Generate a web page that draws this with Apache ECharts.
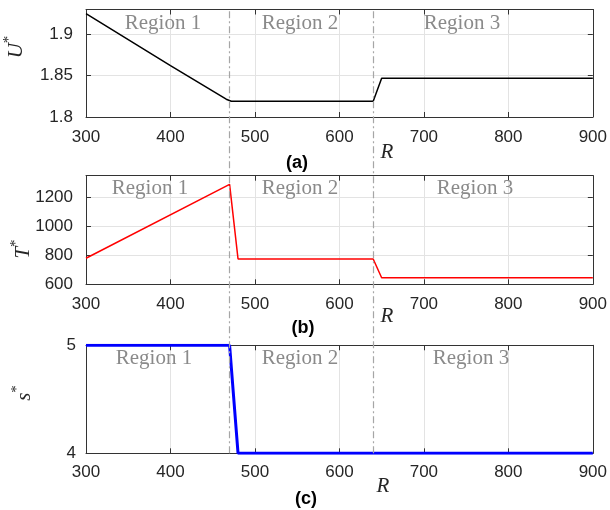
<!DOCTYPE html>
<html>
<head>
<meta charset="utf-8">
<script src="https://cdn.jsdelivr.net/npm/echarts@6/dist/echarts.min.js"></script>
<style>html,body{margin:0;padding:0;background:#fff}#c{width:610px;height:510px}</style>
</head>
<body>
<div id="c"></div>
<script>
// ---- data ----
const xTicks = [300, 400, 500, 600, 700, 800, 900];
const uData = [[300, 1.925], [400, 1.862], [466, 1.8215], [472, 1.819], [640, 1.819], [650, 1.847], [900, 1.847]];
const tData = [[300, 780], [470, 1290], [480, 775], [640, 775], [650, 645], [900, 645]];
const sData = [[300, 5], [470, 5], [480, 4], [900, 4]];
const regionBounds = [469, 639];
const regionNames = ['Region 1', 'Region 2', 'Region 3'];
const panelLabels = ['(a)', '(b)', '(c)'];
const uTicks = [1.8, 1.85, 1.9];
const tTicks = [600, 800, 1000, 1200];
const sTicks = [4, 5];

const chart = echarts.init(document.getElementById('c'));
const boxColor = '#333333';
const gridColor = '#e3e3e3';
const textColor = '#262626';
const sans = 'Liberation Sans, Arial, sans-serif';
const serif = 'Liberation Serif, Times New Roman, serif';

const grids = [
  {left: 86, right: 15, top: 9.5, height: 107.5},
  {left: 86, right: 15, top: 175.7, height: 108.6},
  {left: 86, right: 15, top: 345.3, height: 108},
  {left: 86, right: 15, top: 9.5, height: 443.8}
];

function fmt(ticks) {
  return function (v) {
    for (const t of ticks) if (Math.abs(v - t) < 1e-6) return String(t);
    return '';
  };
}

function bottomX(gi, margin) {
  return {
    type: 'value', gridIndex: gi, min: 300, max: 900, interval: 100, position: 'bottom',
    axisLine: {show: true, lineStyle: {color: boxColor, width: 1}},
    axisTick: {show: true, inside: true, length: 5, lineStyle: {color: boxColor}},
    axisLabel: {color: textColor, fontSize: 17, fontFamily: sans, margin: margin, formatter: fmt(xTicks)},
    splitLine: {show: true, lineStyle: {color: gridColor, width: 1}}
  };
}
function topX(gi) {
  return {
    type: 'value', gridIndex: gi, min: 300, max: 900, interval: 100, position: 'top',
    axisLine: {show: true, lineStyle: {color: boxColor, width: 1}},
    axisTick: {show: true, inside: true, length: 5, lineStyle: {color: boxColor}},
    axisLabel: {show: false}, splitLine: {show: false}
  };
}
function leftY(gi, min, max, interval, ticks, margin, split) {
  return {
    type: 'value', gridIndex: gi, min: min, max: max, interval: interval, position: 'left',
    axisLine: {show: true, lineStyle: {color: boxColor, width: 1}},
    axisTick: {show: true, inside: true, length: 5, lineStyle: {color: boxColor}},
    axisLabel: {color: textColor, fontSize: 17, fontFamily: sans, margin: margin, formatter: fmt(ticks), showMaxLabel: true, showMinLabel: true},
    splitLine: {show: split, lineStyle: {color: gridColor, width: 1}}
  };
}
function rightY(gi, min, max, interval) {
  return {
    type: 'value', gridIndex: gi, min: min, max: max, interval: interval, position: 'right',
    axisLine: {show: true, lineStyle: {color: boxColor, width: 1}},
    axisTick: {show: true, inside: true, length: 5, lineStyle: {color: boxColor}},
    axisLabel: {show: false}, splitLine: {show: false}
  };
}

const xAxis = [
  bottomX(0, 12), topX(0),
  bottomX(1, 12), topX(1),
  bottomX(2, 11), topX(2),
  {type: 'value', gridIndex: 3, min: 300, max: 900, show: false}
];
const yAxis = [
  leftY(0, 1.8, 1.93, 0.05, uTicks, 13, true), rightY(0, 1.8, 1.93, 0.05),
  leftY(1, 600, 1350, 200, tTicks, 13, true), rightY(1, 600, 1350, 200),
  leftY(2, 4, 5, 1, sTicks, 10, false), rightY(2, 4, 5, 1),
  {type: 'value', gridIndex: 3, min: 0, max: 1, show: false}
];

const series = [
  {type: 'line', xAxisIndex: 6, yAxisIndex: 6, data: [], silent: true, z: 1,
   markLine: {silent: true, symbol: 'none', label: {show: false},
     lineStyle: {color: '#a6a6a6', width: 1.2, type: [7, 3, 2, 3]},
     data: regionBounds.map(v => ({xAxis: v}))}},
  {type: 'line', xAxisIndex: 0, yAxisIndex: 0, data: uData, symbol: 'none',
   lineStyle: {color: '#000000', width: 1.5}, z: 3},
  {type: 'line', xAxisIndex: 2, yAxisIndex: 2, data: tData, symbol: 'none',
   lineStyle: {color: '#ff0000', width: 1.5}, z: 3},
  {type: 'line', xAxisIndex: 4, yAxisIndex: 4, data: sData, symbol: 'none',
   lineStyle: {color: '#0000ff', width: 3}, z: 3}
];

// region label pixel centres per panel
const regionPos = [
  [[163, 23], [300, 23], [462, 23]],
  [[150, 188], [300, 188], [475, 188]],
  [[154, 358], [300, 358], [471, 358]]
];
const graphic = [];
regionPos.forEach(panel => panel.forEach((p, i) => {
  graphic.push({type: 'text', x: p[0], y: p[1], z: 10, silent: true,
    style: {text: regionNames[i], font: '21px ' + serif, fill: '#8a8a8a', align: 'center', verticalAlign: 'middle'}});
}));
const panelPos = [[297, 163], [303, 328], [306, 499]];
panelPos.forEach((p, i) => graphic.push({type: 'text', x: p[0], y: p[1], silent: true,
  style: {text: panelLabels[i], font: 'bold 18px ' + sans, fill: '#000', align: 'center', verticalAlign: 'middle'}}));
const rPos = [[387, 152], [387, 316], [383, 486]];
rPos.forEach(p => graphic.push({type: 'text', x: p[0], y: p[1], silent: true,
  style: {text: 'R', font: 'italic 21px ' + serif, fill: '#262626', align: 'center', verticalAlign: 'middle'}}));

const yTitles = [['U', 14, 47], ['T', 21, 249], ['s', 22, 393]];
yTitles.forEach(t => graphic.push({type: 'text', x: t[1], y: t[2], rotation: Math.PI / 2, silent: true,
  style: {text: '{b|' + t[0] + '}{s|*}', align: 'center', verticalAlign: 'middle', fill: '#262626',
    rich: {b: {font: 'italic 21px ' + serif, fill: '#262626', verticalAlign: 'bottom'},
           s: {font: '15px ' + serif, fill: '#262626', verticalAlign: 'top', padding: [0, 0, 10, 0]}}}}));

chart.setOption({
  animation: false,
  grid: grids,
  xAxis: xAxis,
  yAxis: yAxis,
  series: series,
  graphic: graphic
});
</script>
</body>
</html>
